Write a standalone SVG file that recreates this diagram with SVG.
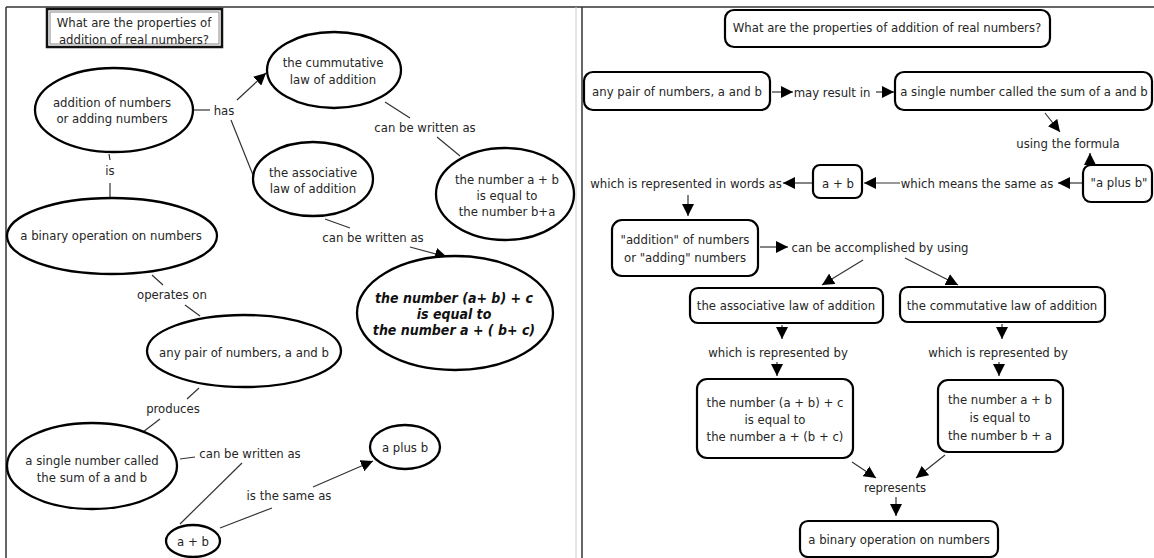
<svg xmlns="http://www.w3.org/2000/svg" width="1154" height="558" viewBox="0 0 1154 558">
<style>
text{font-family:"DejaVu Sans Condensed","DejaVu Sans",sans-serif;font-size:13px;fill:#262626;text-anchor:middle}
.bi{font-weight:bold;font-style:italic;font-size:14px;fill:#111}
.node ellipse{fill:#fff;stroke:#000;stroke-width:2.3}
.node rect{fill:#fff;stroke:#000;stroke-width:2.2}
.conn line{stroke:#333;stroke-width:1.2}
.frame{stroke:#333;stroke-width:1.5;fill:none}
</style>
<defs>
<marker id="ah" viewBox="0 0 10 10" refX="10" refY="5" markerWidth="12" markerHeight="12" markerUnits="userSpaceOnUse" orient="auto"><path d="M0,0 L10,5 L0,10 z" fill="#000"/></marker>
</defs>
<rect width="1154" height="558" fill="#fff"/>
<g id="frame">
<line class="frame" x1="6" y1="7" x2="1154" y2="7"/>
<line class="frame" x1="6" y1="7" x2="6" y2="558"/>
<line x1="576" y1="7" x2="576" y2="558" stroke="#ccc" stroke-width="1"/>
<line class="frame" x1="582" y1="7" x2="582" y2="558"/>
</g>
<g class="conn" id="connectors">
<line x1="193" y1="110" x2="210" y2="110"/>
<line x1="237" y1="100" x2="266" y2="73" marker-end="url(#ah)"/>
<line x1="231" y1="120" x2="253" y2="175"/>
<line x1="385" y1="102" x2="410" y2="118"/>
<line x1="437" y1="137" x2="460" y2="156"/>
<line x1="325" y1="219" x2="350" y2="228"/>
<line x1="410" y1="247" x2="447" y2="257" marker-end="url(#ah)"/>
<line x1="109" y1="154" x2="110" y2="160"/>
<line x1="110" y1="183" x2="110" y2="198"/>
<line x1="152" y1="275" x2="163" y2="285"/>
<line x1="185" y1="305" x2="200" y2="316"/>
<line x1="199" y1="388" x2="187" y2="399"/>
<line x1="160" y1="419" x2="143" y2="432"/>
<line x1="180" y1="459" x2="195" y2="457"/>
<line x1="242" y1="463" x2="180" y2="524"/>
<line x1="220" y1="528" x2="272" y2="508"/>
<line x1="313" y1="487" x2="373" y2="461" marker-end="url(#ah)"/>
<line x1="772" y1="92" x2="793" y2="92" marker-end="url(#ah)"/>
<line x1="876" y1="92" x2="894" y2="92" marker-end="url(#ah)"/>
<line x1="1045" y1="113" x2="1060" y2="132" marker-end="url(#ah)"/>
<line x1="1090" y1="165" x2="1090" y2="153" marker-end="url(#ah)"/>
<line x1="1082" y1="183" x2="1058" y2="183" marker-end="url(#ah)"/>
<line x1="900" y1="183" x2="864" y2="183" marker-end="url(#ah)"/>
<line x1="812" y1="183" x2="783" y2="183" marker-end="url(#ah)"/>
<line x1="688" y1="195" x2="688" y2="216" marker-end="url(#ah)"/>
<line x1="760" y1="247" x2="788" y2="247" marker-end="url(#ah)"/>
<line x1="863" y1="260" x2="822" y2="285" marker-end="url(#ah)"/>
<line x1="905" y1="258" x2="958" y2="285" marker-end="url(#ah)"/>
<line x1="782" y1="325" x2="782" y2="339" marker-end="url(#ah)"/>
<line x1="1002" y1="324" x2="1002" y2="339" marker-end="url(#ah)"/>
<line x1="777" y1="362" x2="777" y2="376" marker-end="url(#ah)"/>
<line x1="999" y1="362" x2="999" y2="376" marker-end="url(#ah)"/>
<line x1="852" y1="462" x2="876" y2="478" marker-end="url(#ah)"/>
<line x1="945" y1="455" x2="916" y2="478" marker-end="url(#ah)"/>
<line x1="896" y1="497" x2="896" y2="516" marker-end="url(#ah)"/>
</g>
<g id="link-labels">
<text x="224" y="114.5">has</text>
<text x="425" y="131.5">can be written as</text>
<text x="373" y="241.5">can be written as</text>
<text x="110" y="174.5">is</text>
<text x="172" y="298.5">operates on</text>
<text x="173" y="412.5">produces</text>
<text x="250" y="457.5">can be written as</text>
<text x="289" y="499.5">is the same as</text>
<text x="832" y="96.5">may result in</text>
<text x="1068" y="147.5">using the formula</text>
<text x="977" y="187.5">which means the same as</text>
<text x="686" y="187.5">which is represented in words as</text>
<text x="880" y="251.5">can be accomplished by using</text>
<text x="778" y="356.5">which is represented by</text>
<text x="998" y="356.5">which is represented by</text>
<text x="895" y="491.5">represents</text>
</g>
<g class="node" id="l-title">
<rect x="47" y="9" width="175" height="38" style="stroke:#111;stroke-width:2.5"/>
<rect x="50" y="12" width="169" height="32" style="stroke:#888;stroke-width:1"/>
<text x="134" y="26.5">What are the properties of</text>
<text x="134" y="43.5">addition of real numbers?</text>
</g>
<g class="node" id="l-addition">
<ellipse cx="114" cy="110" rx="79" ry="42"/>
<text x="112" y="106.5">addition of numbers</text>
<text x="112" y="122.5">or adding numbers</text>
</g>
<g class="node" id="l-cummutative">
<ellipse cx="334" cy="70" rx="67" ry="38"/>
<text x="333" y="66.5">the cummutative</text>
<text x="333" y="83.5">law of addition</text>
</g>
<g class="node" id="l-ab-ba">
<ellipse cx="505" cy="194" rx="69" ry="46"/>
<text x="507" y="183.5">the number a + b</text>
<text x="507" y="199.5">is equal to</text>
<text x="507" y="215.5">the number  b+a</text>
</g>
<g class="node" id="l-associative">
<ellipse cx="313" cy="179" rx="60" ry="37"/>
<text x="313" y="176.5">the associative</text>
<text x="313" y="192.5">law of addition</text>
</g>
<g class="node" id="l-assoc-formula">
<ellipse cx="455" cy="313" rx="98" ry="57"/>
<text class="bi" x="454" y="303">the number (a+ b) + c</text>
<text class="bi" x="454" y="319">is equal to</text>
<text class="bi" x="454" y="335">the number a + ( b+ c)</text>
</g>
<g class="node" id="l-binary">
<ellipse cx="112" cy="236" rx="105" ry="38"/>
<text x="111" y="240">a binary operation on numbers</text>
</g>
<g class="node" id="l-pair">
<ellipse cx="244" cy="351" rx="97" ry="36"/>
<text x="244" y="356.5">any pair of numbers, a and b</text>
</g>
<g class="node" id="l-single">
<ellipse cx="92" cy="466" rx="85" ry="43"/>
<text x="92" y="464.5">a single number called</text>
<text x="92" y="481.5">the sum of a and b</text>
</g>
<g class="node" id="l-aplusb-sym">
<ellipse cx="193" cy="541" rx="27" ry="16"/>
<text x="193" y="545.5">a + b</text>
</g>
<g class="node" id="l-aplusb-words">
<ellipse cx="405" cy="447" rx="35" ry="22"/>
<text x="405" y="451.5">a plus b</text>
</g>
<g class="node" id="r-title">
<rect x="725" y="10" width="325" height="37" rx="9"/>
<text x="887" y="31.5">What are the properties of addition of real numbers?</text>
</g>
<g class="node" id="r-pair">
<rect x="584" y="72" width="186" height="38" rx="9"/>
<text x="677" y="95.5">any pair of numbers, a and b</text>
</g>
<g class="node" id="r-single">
<rect x="895" y="72" width="257" height="38" rx="9"/>
<text x="1024" y="95.5">a single number called the sum of a and b</text>
</g>
<g class="node" id="r-aplusb-words">
<rect x="1083" y="165" width="69" height="37" rx="8"/>
<text x="1119" y="187">"a plus b"</text>
</g>
<g class="node" id="r-aplusb-sym">
<rect x="813" y="165" width="49" height="33" rx="7"/>
<text x="838" y="187.5">a + b</text>
</g>
<g class="node" id="r-addition">
<rect x="612" y="220" width="146" height="56" rx="10"/>
<text x="685" y="243.5">"addition" of numbers</text>
<text x="685" y="261.5">or "adding" numbers</text>
</g>
<g class="node" id="r-associative">
<rect x="690" y="288" width="193" height="35" rx="8"/>
<text x="786" y="310">the associative law of addition</text>
</g>
<g class="node" id="r-commutative">
<rect x="900" y="287" width="205" height="35" rx="8"/>
<text x="1002" y="309.5">the commutative law of addition</text>
</g>
<g class="node" id="r-assoc-formula">
<rect x="697" y="379" width="156" height="79" rx="10"/>
<text x="775" y="406.5">the number (a + b) + c</text>
<text x="775" y="423.5">is equal to</text>
<text x="775" y="440.5">the number a + (b + c)</text>
</g>
<g class="node" id="r-comm-formula">
<rect x="938" y="380" width="125" height="72" rx="10"/>
<text x="1000" y="403.5">the number a + b</text>
<text x="1000" y="421.5">is equal to</text>
<text x="1000" y="439.5">the number b + a</text>
</g>
<g class="node" id="r-binary">
<rect x="800" y="521" width="198" height="36" rx="8"/>
<text x="899" y="544">a binary operation on numbers</text>
</g>
</svg>
